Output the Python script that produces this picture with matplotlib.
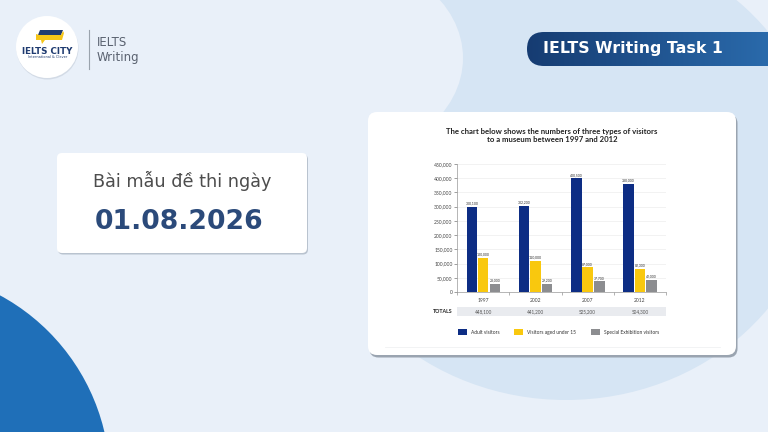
import numpy as np
import matplotlib
matplotlib.use("Agg")
import matplotlib.pyplot as plt
from matplotlib.patches import FancyBboxPatch, Circle, Ellipse, Rectangle, Polygon
import matplotlib.transforms as mtransforms

# data
years = ["1997", "2002", "2007", "2012"]
adult = [300100, 302200, 400500, 380000]
under15 = [120000, 110000, 87000, 82300]
special = [28000, 29200, 37700, 42000]
totals = ["448,100", "441,200", "525,200", "504,300"]
series_names = ["Adult visitors", "Visitors aged under 15", "Special Exhibition visitors"]
yticks = np.arange(0, 450001, 50000)

W, H = 768, 432
fig = plt.figure(figsize=(7.68, 4.32), dpi=100)
fig.patch.set_facecolor("#e9f0f9")

# background layer in pixel coordinates (y down)
bg = fig.add_axes([0, 0, 1, 1])
bg.set_xlim(0, W)
bg.set_ylim(H, 0)
bg.axis("off")

bg.add_patch(Ellipse((566, 170), 506, 460, color="#d6e5f4", lw=0, zorder=1))
bg.add_patch(Ellipse((330, 58), 266, 206, color="#e9f0f9", lw=0, zorder=2))
bg.add_patch(Rectangle((0, 100), 368, 265, color="#e9f0f9", lw=0, zorder=2))
bg.add_patch(Circle((800, 432), 105, color="#e9f0f9", lw=0, zorder=2))
bg.add_patch(Circle((-100, 480), 210, color="#1f6fb8", lw=0, zorder=3))

# logo
bg.add_patch(Circle((47.5, 48.5), 31, color="#d3dbe6", lw=0, zorder=3))
bg.add_patch(Circle((47, 47), 31, color="white", lw=0, zorder=4))
bg.add_patch(Polygon([(40, 30), (63, 30), (61, 35), (38, 35)], color="#1f3b70", lw=0, zorder=5))
bg.add_patch(Polygon([(36, 34), (39, 35), (61, 35), (63, 31), (64, 33), (62, 40), (45, 40),
                      (42, 44), (41, 40), (36, 40)], color="#f5c518", lw=0, zorder=5))
bg.text(47.5, 51.5, "IELTS CITY", ha="center", va="center", fontsize=6.3,
        fontweight="bold", color="#1f3b70", zorder=6)
bg.text(47.5, 57.3, "International & Clever", ha="center", va="center", fontsize=2.5,
        color="#1f3b70", zorder=6)
bg.plot([89, 89], [30, 69], color="#9aa3ad", lw=0.8, zorder=4)
bg.text(97, 42, "IELTS", ha="left", va="center", fontsize=8.5, color="#5a6270", zorder=4)
bg.text(97, 57, "Writing", ha="left", va="center", fontsize=8.5, color="#5a6270", zorder=4)

# top-right banner with gradient
pill = FancyBboxPatch((527, 32), 280, 34, boxstyle="round,pad=0,rounding_size=17",
                      lw=0, facecolor="none", zorder=4)
bg.add_patch(pill)
grad = np.linspace(0, 1, 256).reshape(1, -1)
cmap = matplotlib.colors.LinearSegmentedColormap.from_list("b", ["#163c72", "#2a6aab"])
im = bg.imshow(grad, extent=[527, 768, 66, 32], cmap=cmap, aspect="auto", zorder=4)
im.set_clip_path(pill)
bg.set_xlim(0, W)
bg.set_ylim(H, 0)
bg.text(543, 48.5, "IELTS Writing Task 1", ha="left", va="center", fontsize=11.3,
        fontweight="bold", color="white", zorder=5)

# left date card
bg.add_patch(FancyBboxPatch((58, 154.5), 250, 100, boxstyle="round,pad=0,rounding_size=5",
                            color="#b9c3cf", lw=0, zorder=3))
bg.add_patch(FancyBboxPatch((57, 153), 250, 100, boxstyle="round,pad=0,rounding_size=5",
                            color="white", lw=0, zorder=4))
bg.text(182, 181, "Bài mẫu đề thi ngày", ha="center", va="center", fontsize=12.7,
        color="#4d4d4d", zorder=5)
bg.text(179, 222, "01.08.2026", ha="center", va="center", fontsize=19.2,
        fontweight="bold", color="#2b4a7a", zorder=5)

# chart card
bg.add_patch(FancyBboxPatch((369.5, 114.5), 368, 243, boxstyle="round,pad=0,rounding_size=9",
                            color="#9aa4b0", lw=0, zorder=3))
bg.add_patch(FancyBboxPatch((368, 112), 368, 243, boxstyle="round,pad=0,rounding_size=9",
                            color="white", lw=0, zorder=4))
bg.plot([385, 720], [347, 347], color="#f0f1f3", lw=0.6, zorder=5)

chart_font = ["Lato", "DejaVu Sans"]
bg.text(552, 135.5, "The chart below shows the numbers of three types of visitors\n"
        "to a museum between 1997 and 2012", ha="center", va="center", fontsize=5.6,
        fontweight="bold", color="#222222", family=chart_font, linespacing=1.25, zorder=5)

# the bar chart itself
ax = fig.add_axes([457 / W, 1 - 292 / H, 209 / W, 128 / H])
ax.set_facecolor("none")
x = np.arange(len(years))
w = 0.2
b1 = ax.bar(x - 0.215, adult, w, color="#0d2d84", label=series_names[0], zorder=3)
b2 = ax.bar(x, under15, w, color="#f9c80e", label=series_names[1], zorder=3)
b3 = ax.bar(x + 0.225, special, w, color="#8c8d90", label=series_names[2], zorder=3)
for bars in (b1, b2, b3):
    ax.bar_label(bars, labels=[f"{int(v):,}" for v in bars.datavalues], padding=0.8,
                 fontsize=2.5, color="#333333", family=chart_font)

ax.set_xlim(-0.5, 3.5)
ax.set_ylim(0, 450000)
ax.set_yticks(yticks)
ax.set_yticklabels([f"{v:,}" for v in yticks], family=chart_font)
ax.tick_params(axis="y", labelsize=3.6, length=2, width=0.4, pad=1.2,
               colors="#555555", labelcolor="#444444")
ax.set_xticks(np.arange(-0.5, 4, 1))
ax.set_xticklabels([])
ax.set_xticks(x, years, minor=True, family=chart_font)
ax.tick_params(axis="x", which="major", length=2, width=0.4, colors="#777777")
ax.tick_params(axis="x", which="minor", length=0, pad=4.5, labelsize=3.6, labelcolor="#444444")
ax.grid(axis="y", color="#e8e8e8", lw=0.4, zorder=0)
for s in ("top", "right"):
    ax.spines[s].set_visible(False)
for s in ("left", "bottom"):
    ax.spines[s].set_color("#999999")
    ax.spines[s].set_linewidth(0.5)

# totals row
trans = mtransforms.blended_transform_factory(ax.transData, ax.transAxes)
ax.add_patch(Rectangle((0, -0.188), 1, 0.07, transform=ax.transAxes, color="#e9ebef",
                       lw=0, clip_on=False))
for i, t in enumerate(totals):
    ax.text(x[i], -0.153, t, transform=trans, ha="center", va="center", fontsize=3.3,
            color="#555555", family=chart_font)
ax.text(-0.02, -0.153, "TOTALS", transform=ax.transAxes, ha="right", va="center",
        fontsize=3.8, fontweight="bold", color="#222222", family=chart_font)

ax.legend(handles=[b1, b2, b3], loc="center", bbox_to_anchor=(0.486, -0.3125), ncol=3,
          frameon=False, prop={"family": chart_font, "size": 3.5}, handlelength=1.8,
          handleheight=1.8, handletextpad=0.9, columnspacing=3.0, labelcolor="#333333")

fig.savefig("out.png", dpi=100, facecolor=fig.get_facecolor())
